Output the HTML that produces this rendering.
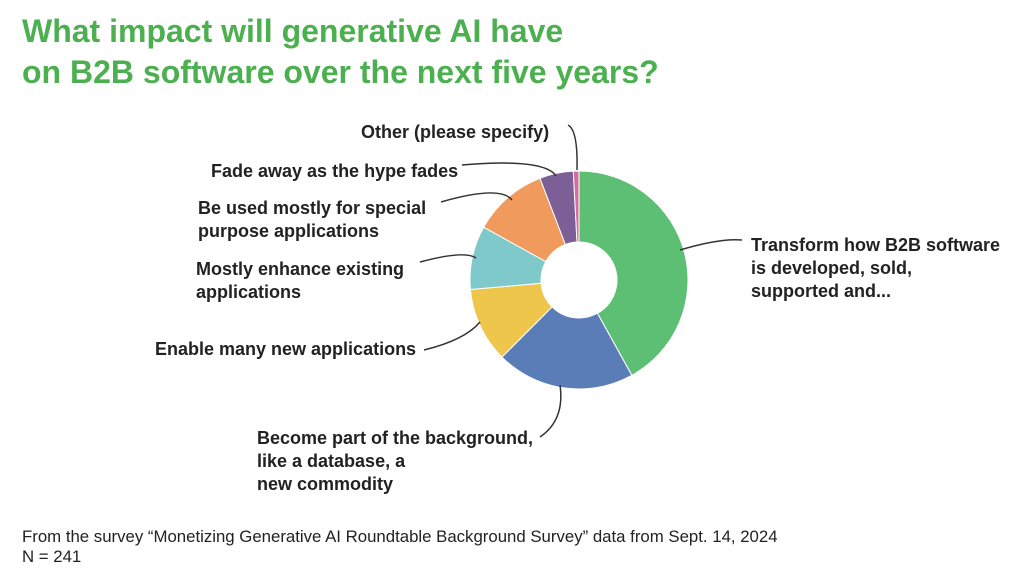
<!DOCTYPE html>
<html><head><meta charset="utf-8"><style>
body{margin:0;background:#fff;width:1024px;height:583px;overflow:hidden;font-family:"Liberation Sans",sans-serif}
.t{position:absolute;left:22px;top:11px;color:#4caf50;font-weight:bold;font-size:32px;line-height:41px}
.l{position:absolute;font-weight:bold;font-size:18px;color:#222;line-height:23px;white-space:nowrap}
.f{position:absolute;left:22px;top:527px;font-size:16.8px;color:#222;line-height:20px;white-space:nowrap}
</style></head><body>
<div class="t">What impact will generative AI have<br>on B2B software over the next five years?</div>
<svg width="1024" height="583" style="position:absolute;left:0;top:0">
<g transform="translate(579,280)" stroke="#fff" stroke-width="1">
<path id="s"/>
</g>
<g fill="none" stroke="#333" stroke-width="1.5">
<path d="M568,125 Q578,130 577,170"/>
<path d="M462,165 Q545,158 556,176"/>
<path d="M441,202 Q500,185 512,200"/>
<path d="M420,262 Q465,250 476,258"/>
<path d="M424,350 Q465,340 480,322"/>
<path d="M540,437 Q565,420 560,385"/>
<path d="M680,250 Q720,238 742,240"/>
</g>
</svg>
<div class="l" style="left:361px;top:121px">Other (please specify)</div>
<div class="l" style="left:211px;top:160px">Fade away as the hype fades</div>
<div class="l" style="left:198px;top:197px">Be used mostly for special<br>purpose applications</div>
<div class="l" style="left:196px;top:258px">Mostly enhance existing<br>applications</div>
<div class="l" style="left:155px;top:338px">Enable many new applications</div>
<div class="l" style="left:257px;top:427px">Become part of the background,<br>like a database, a<br>new commodity</div>
<div class="l" style="left:751px;top:234px">Transform how B2B software<br>is developed, sold,<br>supported and...</div>
<div class="f">From the survey “Monetizing Generative AI Roundtable Background Survey” data from Sept. 14, 2024<br>N = 241</div>
<script>
var d=[[0,151,"#5cbf73"],[151,225,"#5b7db7"],[225,265,"#eec64b"],[265,299,"#80c9ca"],[299,339,"#f09a5d"],[339,357,"#7b5f96"],[357,360,"#d36c9b"]];
var R=109,r=38,g=document.querySelector("g"),h="";
function p(a,rr){a=a*Math.PI/180;return (rr*Math.sin(a)).toFixed(2)+","+(-rr*Math.cos(a)).toFixed(2)}
d.forEach(function(s){var lg=s[1]-s[0]>180?1:0;
h+='<path fill="'+s[2]+'" d="M'+p(s[0],R)+' A'+R+','+R+' 0 '+lg+' 1 '+p(s[1],R)+' L'+p(s[1],r)+' A'+r+','+r+' 0 '+lg+' 0 '+p(s[0],r)+' Z"/>';});
g.innerHTML=h;
</script>
</body></html>
